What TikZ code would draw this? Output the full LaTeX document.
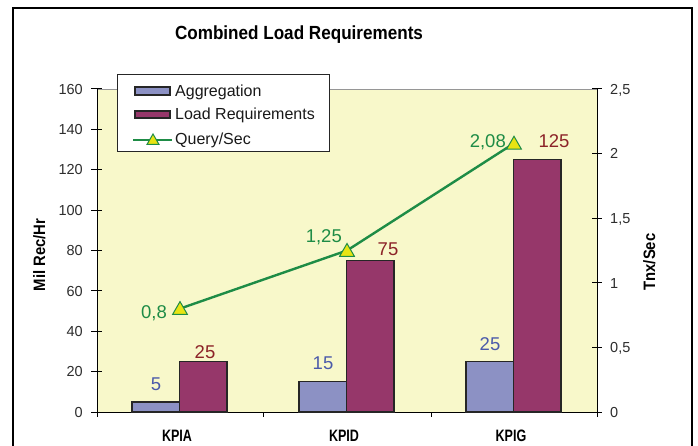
\documentclass[tikz,border=0pt]{standalone}
\usepackage{fontspec}
\setmainfont{Liberation Sans}
\newfontfamily\condfont[FakeStretch=0.9]{Liberation Sans}
\newfontfamily\narrowfont[FakeStretch=0.76]{Liberation Sans}
\usetikzlibrary{shapes.geometric}
\definecolor{plotbg}{RGB}{248,248,202}
\definecolor{aggfill}{RGB}{140,145,196}
\definecolor{loadfill}{RGB}{150,55,106}
\definecolor{qgreen}{RGB}{30,140,70}
\definecolor{qyellow}{RGB}{232,228,20}
\definecolor{aggtext}{RGB}{75,90,170}
\definecolor{loadtext}{RGB}{140,35,40}
\definecolor{ticktext}{RGB}{45,45,45}
\definecolor{framegray}{RGB}{150,150,150}

\begin{document}
\begin{tikzpicture}[x=1pt,y=-1pt,
  bar/.style={draw=black!85, line width=1.3pt},
  axisline/.style={draw=black, line width=1pt},
  ticklbl/.style={font=\fontsize{14.5}{16}\selectfont, text=ticktext, inner sep=0pt},
  datalbl/.style={font=\fontsize{18.5}{20}\selectfont, inner sep=0pt, anchor=base},
  legendlbl/.style={font=\fontsize{16}{18}\selectfont, text=black!90, inner sep=0pt, anchor=base west},
  titlelbl/.style={font=\condfont\bfseries\fontsize{19}{21}\selectfont, inner sep=0pt, anchor=base},
  axistitle/.style={font=\condfont\bfseries\fontsize{16.5}{18}\selectfont, inner sep=0pt, anchor=base, rotate=90},
  catlbl/.style={font=\narrowfont\bfseries\fontsize{16.5}{18}\selectfont, inner sep=0pt, anchor=base},
  marker/.style={regular polygon, regular polygon sides=3, minimum size=17pt,
    inner sep=0pt, draw=qgreen, fill=qyellow, line width=1pt},
  qline/.style={draw=qgreen, line width=2.4pt}]

\useasboundingbox (0,0) rectangle (698,446);
\fill[white] (0,0) rectangle (698,446);

% outer frame (runs past the lower edge)
\draw[line width=1.5pt] (13,470) -- (13,8) -- (692,8) -- (692,470);

% title
\node[titlelbl] (title) at (299,40) {Combined Load Requirements};

% plot area
\fill[plotbg] (97,89) rectangle (597,412);
\draw[framegray, line width=0.8pt] (97,89) -- (597,89);

% left value axis: 0..160, 0 at y=412, 160 at y=89 (2.01875 per unit)
\draw[axisline] (97,89) -- (97,412);
\foreach \v [count=\i] in {0,20,...,160} {
  \pgfmathsetmacro\yy{412-\v*2.01875}
  \draw[axisline] (91,\yy) -- (102,\yy);
  \node[ticklbl, anchor=base east] (yl\i) at (83,\yy+5.2) {\v};
}

% right value axis: 0..2,5
\draw[axisline] (597,89) -- (597,412);
\foreach \v/\t [count=\i] in {0/0, 0.5/{0,5}, 1/1, 1.5/{1,5}, 2/2, 2.5/{2,5}} {
  \pgfmathsetmacro\yy{412-\v*129.2}
  \draw[axisline] (592,\yy) -- (602,\yy);
  \node[ticklbl, anchor=base west] (yr\i) at (610,\yy+5.2) {\t};
}

% category axis
\draw[axisline] (97,412) -- (597,412);
\foreach \x in {97,263,431,597} \draw[axisline] (\x,412) -- (\x,417);
\node[catlbl] (catA) at (177,441) {KPIA};
\node[catlbl] (catD) at (344,441) {KPID};
\node[catlbl] (catG) at (511,441) {KPIG};

% axis titles
\node[axistitle] (ltitle) at (45,255) {Mil Rec/Hr};
\node[axistitle] (rtitle) at (655,262) {Tnx/Sec};

% bars: Aggregation and Load Requirements
\foreach \xa/\agg/\load in {132/5/25, 299/15/75, 466/25/125} {
  \pgfmathsetmacro\ya{412-\agg*2.01875}
  \pgfmathsetmacro\yl{412-\load*2.01875}
  \filldraw[bar, fill=aggfill] (\xa,412) rectangle (\xa+47.5,\ya);
  \filldraw[bar, fill=loadfill] (\xa+47.5,412) rectangle (\xa+95,\yl);
}

% bar value labels
\node[datalbl, text=aggtext] (a1) at (156,390) {5};
\node[datalbl, text=aggtext] (a2) at (323,369) {15};
\node[datalbl, text=aggtext] (a3) at (490,350) {25};
\node[datalbl, text=loadtext] (l1) at (205,358) {25};
\node[datalbl, text=loadtext] (l2) at (388,255) {75};
\node[datalbl, text=loadtext] (l3) at (554,148) {125};

% Query/Sec series on the right axis
\coordinate (p1) at (180,308.6);
\coordinate (p2) at (347,250.5);
\coordinate (p3) at (514,143.3);
\draw[qline] (p1) -- (p2) -- (p3);
\node[marker, yshift=-1.5pt] (m1) at (p1) {};
\node[marker, yshift=-1.5pt] (m2) at (p2) {};
\node[marker, yshift=-1.5pt] (m3) at (p3) {};
\node[datalbl, text=qgreen, anchor=base east] (q1) at (167,318) {0,8};
\node[datalbl, text=qgreen, anchor=base east] (q2) at (342,243) {1,25};
\node[datalbl, text=qgreen, anchor=base east] (q3) at (506,148) {2,08};

% legend
\filldraw[draw=black!85, fill=white, line width=1pt] (117,75) rectangle (329,152);
\filldraw[bar, fill=aggfill] (135,87) rectangle (170,95);
\node[legendlbl] (lg1) at (175,96.7) {Aggregation};
\filldraw[bar, fill=loadfill] (135,111) rectangle (170,118);
\node[legendlbl] (lg2) at (175,120) {Load Requirements};
\coordinate (lq1) at (133,140);
\coordinate (lq2) at (172,140);
\draw[qline] (lq1) -- (lq2);
\node[marker, minimum size=14pt, yshift=-1pt] (lgm) at (153,140) {};
\node[legendlbl] (lg3) at (175,145) {Query/Sec};
\end{tikzpicture}
\end{document}
